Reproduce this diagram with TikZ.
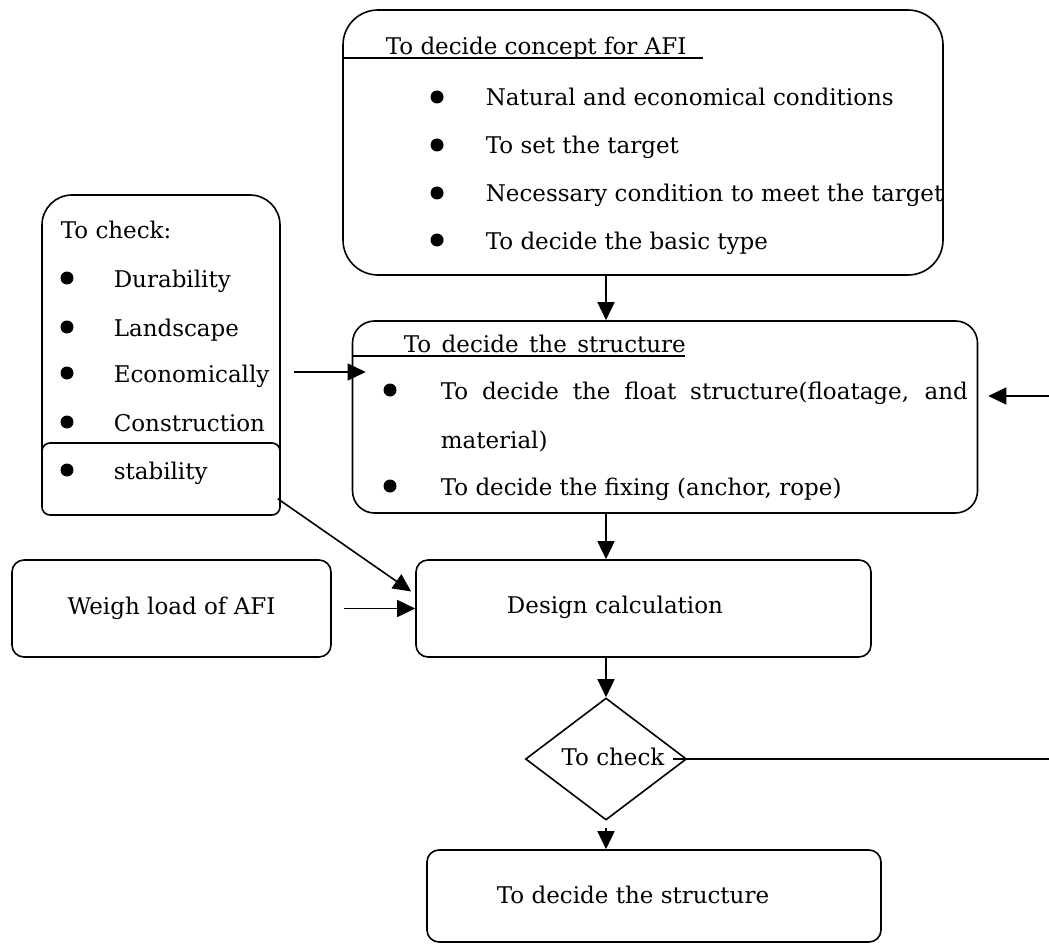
\documentclass[tikz,border=0pt]{standalone}
\usepackage{fontspec}
\setmainfont{DejaVu Serif}
\usetikzlibrary{shapes.geometric,arrows.meta,calc}
\begin{document}
\begin{tikzpicture}[x=1pt,y=-1pt,line width=1.6pt,
  font=\fontsize{23}{27}\selectfont,
  box/.style={draw,rounded corners=#1,inner sep=0pt},
  arr/.style={-{Triangle[length=18pt,width=17pt]}},
  txt/.style={anchor=base west,inner sep=0pt},
  lbl/.style={inner sep=0pt},
  bul/.style={circle,fill,inner sep=0pt,minimum size=13pt}]
\useasboundingbox (0,0) rectangle (1049,944);
% top box
\node[box=35,minimum width=600pt,minimum height=265pt] (concept) at (643,142.5) {};
\node[txt] (ct) at (385,55) {To decide concept for AFI};
\draw (concept.west |- 0,58) -- (703,58);
\node[bul] (cb1) at (437,97) {};
\node[bul] (cb2) at (437,145) {};
\node[bul] (cb3) at (437,193) {};
\node[bul] (cb4) at (437,240) {};
\node[txt] (c1) at (485,106) {Natural and economical conditions};
\node[txt] (c2) at (485,154) {To set the target};
\node[txt] (c3) at (485,202) {Necessary condition to meet the target};
\node[txt] (c4) at (485,249) {To decide the basic type};
% left box
\node[box=30,minimum width=238pt,minimum height=320pt] (check) at (161,355) {};
\node[box=8,fill=white,minimum width=238pt,minimum height=72pt] (stab) at (161,479) {};
\node[txt] (kt) at (60,238) {To check:};
\node[bul] (kb1) at (67,278) {};
\node[bul] (kb2) at (67,327) {};
\node[bul] (kb3) at (67,373) {};
\node[bul] (kb4) at (67,422) {};
\node[bul] (kb5) at (67,470) {};
\node[txt] (k1) at (113,287) {Durability};
\node[txt] (k2) at (113,336) {Landscape};
\node[txt] (k3) at (113,382) {Economically};
\node[txt] (k4) at (113,431) {Construction};
\node[txt] (k5) at (113,479) {stability};
% middle box
\node[box=22,minimum width=625pt,minimum height=192pt] (struct) at (665,417) {};
\node[txt] (st) at (403,352) {\makebox[282pt][s]{To decide the structure}};
\draw (struct.west |- 0,356) -- (685,356);
\node[bul] (sb1) at (390,390) {};
\node[bul] (sb2) at (390,486) {};
\node[txt] (s1) at (440,399) {\makebox[527pt][s]{To decide the float structure(floatage, and}};
\node[txt] (s2) at (440,448) {material)};
\node[txt] (s3) at (440,495) {To decide the fixing (anchor, rope)};
% lower boxes
\node[box=12,minimum width=319pt,minimum height=97pt] (weigh) at (171.5,608.5) {Weigh load of AFI};
\node[box=12,minimum width=455pt,minimum height=97pt] (design) at (643.5,608.5) {};
\node[lbl] (dt) at (615,607) {Design calculation};
\node[draw,diamond,inner sep=0pt,minimum width=161pt,minimum height=122pt,aspect=1.32] (dec) at (606,759) {};
\node[lbl] (dct) at (613,757) {To check};
\node[box=12,minimum width=454pt,minimum height=92pt] (final) at (654,896) {};
\node[lbl] (ft) at (633,895) {To decide the structure};
% connectors
\draw[arr] (concept.south -| dec.north) -- (struct.north -| dec.north);
\draw[arr] (struct.south -| dec.north) -- (design.north -| dec.north);
\draw[arr] (design.south -| dec.north) -- (dec.north);
\draw[arr] ([yshift=-7pt]dec.south) -- (final.north -| dec.south);
\draw[arr] ($(check.east |- 0,372)+(13,0)$) -- ($(struct.west |- 0,372)+(14,0)$);
\draw[arr] ($(stab.south east)+(-3,-17)$) -- ($(design.west)+(-4,-17)$);
\draw[arr] ([xshift=12pt]weigh.east) -- (design.west);
\draw[arr] ([xshift=-14pt]dec.east) -- (1052,759) -- (1052,396) -- ($(struct.east |- 0,396)+(10,0)$);
\end{tikzpicture}
\end{document}
